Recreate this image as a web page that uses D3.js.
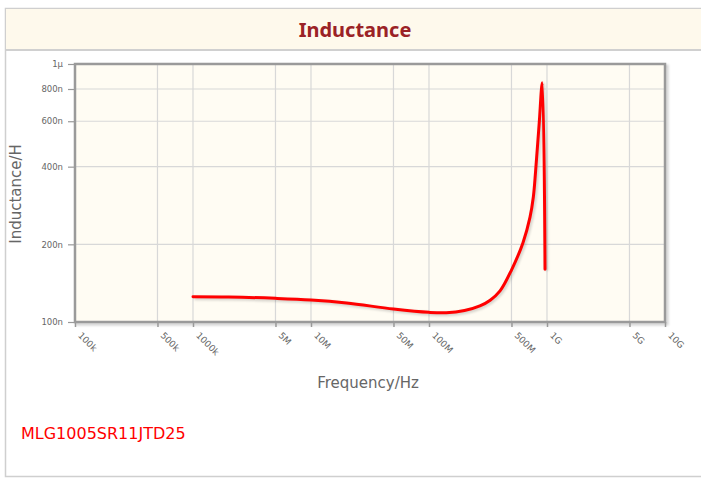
<!DOCTYPE html>
<html>
<head>
<meta charset="utf-8">
<script src="https://cdn.jsdelivr.net/npm/d3@7"></script>
<style>
  body { margin: 0; background: #fff; }
  svg { display: block; }
</style>
</head>
<body>
<div id="wrapper"></div>
<script>
// frequency (Hz) and inductance (H)
const freq = [1e6, 2e6, 5e6, 1e7, 2e7, 5e7, 1e8, 1.4e8, 2e8, 2.7e8, 3.3e8, 4e8, 5e8, 6.26e8, 7.18e8, 7.66e8, 8.01e8, 8.59e8, 9.12e8, 9.62e8];
const induct = [125.3e-9, 125e-9, 123.5e-9, 121.7e-9, 118.5e-9, 112.3e-9, 109e-9, 108.6e-9, 110.8e-9, 115.5e-9, 121.5e-9, 132e-9, 159e-9, 203e-9, 255e-9, 305e-9, 385e-9, 590e-9, 846e-9, 160e-9];

const xTicks = [1e5, 5e5, 1e6, 5e6, 1e7, 5e7, 1e8, 5e8, 1e9, 5e9, 1e10];
const xTickLabels = ["100k", "500k", "1000k", "5M", "10M", "50M", "100M", "500M", "1G", "5G", "10G"];
const yTicks = [1e-7, 2e-7, 4e-7, 6e-7, 8e-7, 1e-6];
const yTickLabels = ["100n", "200n", "400n", "600n", "800n", "1µ"];

const partName = "MLG1005SR11JTD25";

function buildPlot() {
    const dimension = {
        width: 701,
        height: 478,
        margin: { top: 64, left: 75, bottom: 156, right: 36 }
    };
    dimension.boundedWidth = dimension.width - dimension.margin.left - dimension.margin.right;
    dimension.boundedHeight = dimension.height - dimension.margin.top - dimension.margin.bottom;

    const svg = d3.select("#wrapper").append("svg")
        .attr("width", dimension.width)
        .attr("height", dimension.height);

    const defs = svg.append("defs");
    const f = defs.append("filter").attr("id", "shadow")
        .attr("x", "-5%").attr("y", "-5%").attr("width", "110%").attr("height", "110%");
    f.append("feGaussianBlur").attr("stdDeviation", 1.2);

    // outer panel
    svg.append("rect")
        .attr("x", 5.5).attr("y", 8.5)
        .attr("width", 700).attr("height", 468)
        .attr("fill", "#fff")
        .attr("stroke", "#cfcfcf")
        .attr("stroke-width", 1.5);

    // title bar
    svg.append("rect")
        .attr("x", 6).attr("y", 9)
        .attr("width", 700).attr("height", 41)
        .attr("fill", "#fef9ec");
    svg.append("line")
        .attr("x1", 6).attr("x2", 701)
        .attr("y1", 50).attr("y2", 50)
        .attr("stroke", "#d0d0d0")
        .attr("stroke-width", 2);
    svg.append("text")
        .attr("x", 355).attr("y", 37)
        .attr("text-anchor", "middle")
        .attr("font-family", "'Noto Sans', sans-serif")
        .attr("font-weight", "bold")
        .attr("font-size", 20)
        .attr("fill", "#9b2226")
        .text("Inductance");

    const xScaler = d3.scaleLog()
        .domain([1e5, 1e10])
        .range([0, dimension.boundedWidth]);
    const yScaler = d3.scaleLog()
        .domain([1e-7, 1e-6])
        .range([dimension.boundedHeight, 0]);

    const bounds = svg.append("g")
        .attr("transform", `translate(${dimension.margin.left}, ${dimension.margin.top})`);

    // frame shadow + background
    bounds.append("rect")
        .attr("x", 2).attr("y", 2)
        .attr("width", dimension.boundedWidth).attr("height", dimension.boundedHeight)
        .attr("fill", "none")
        .attr("stroke", "#000")
        .attr("stroke-opacity", 0.18)
        .attr("stroke-width", 3)
        .attr("filter", "url(#shadow)");
    bounds.append("rect")
        .attr("width", dimension.boundedWidth).attr("height", dimension.boundedHeight)
        .attr("fill", "#fffcf3");

    // grid
    bounds.append("g").selectAll("line")
        .data(xTicks.slice(1, -1))
        .join("line")
        .attr("x1", d => xScaler(d)).attr("x2", d => xScaler(d))
        .attr("y1", 0).attr("y2", dimension.boundedHeight)
        .attr("stroke", "#d8d8d8").attr("stroke-width", 1.2);
    bounds.append("g").selectAll("line")
        .data(yTicks.slice(1, -1))
        .join("line")
        .attr("x1", 0).attr("x2", dimension.boundedWidth)
        .attr("y1", d => yScaler(d)).attr("y2", d => yScaler(d))
        .attr("stroke", "#d8d8d8").attr("stroke-width", 1.2);

    // axes
    const xAxisGenerator = d3.axisBottom(xScaler)
        .tickValues(xTicks)
        .tickFormat((d, i) => xTickLabels[i])
        .tickSize(5)
        .tickSizeOuter(0);
    const xAxis = bounds.append("g")
        .attr("transform", `translate(0, ${dimension.boundedHeight})`)
        .call(xAxisGenerator);
    xAxis.select(".domain").remove();
    xAxis.selectAll(".tick line").attr("stroke", "#999").attr("stroke-width", 1.5);
    xAxis.selectAll(".tick text")
        .attr("fill", "#666")
        .attr("font-family", "'DejaVu Sans', sans-serif")
        .attr("font-size", 9)
        .attr("text-anchor", "start")
        .attr("dy", null)
        .attr("y", 0)
        .attr("transform", "translate(2, 14) rotate(45)");

    const yAxisGenerator = d3.axisLeft(yScaler)
        .tickValues(yTicks)
        .tickFormat((d, i) => yTickLabels[i])
        .tickSize(7)
        .tickSizeOuter(0);
    const yAxis = bounds.append("g").call(yAxisGenerator);
    yAxis.select(".domain").remove();
    yAxis.selectAll(".tick line").attr("stroke", "#999").attr("stroke-width", 1.2);
    yAxis.selectAll(".tick text")
        .attr("fill", "#666")
        .attr("font-family", "'DejaVu Sans', sans-serif")
        .attr("font-size", 8.5)
        .attr("x", -12);

    // frame
    bounds.append("rect")
        .attr("width", dimension.boundedWidth).attr("height", dimension.boundedHeight)
        .attr("fill", "none")
        .attr("stroke", "#9a9a9a")
        .attr("stroke-width", 2.5);

    // curve
    const pts = freq.map((d, i) => [d, induct[i]]);
    const lineGenerator = d3.line()
        .x(d => xScaler(d[0]))
        .y(d => yScaler(d[1]))
        .curve(d3.curveCatmullRom.alpha(0.5));

    bounds.append("path")
        .datum(pts)
        .attr("d", lineGenerator)
        .attr("fill", "none")
        .attr("stroke", "#000")
        .attr("stroke-opacity", 0.15)
        .attr("stroke-width", 4)
        .attr("transform", "translate(1.5, 1.5)")
        .attr("filter", "url(#shadow)");
    bounds.append("path")
        .datum(pts)
        .attr("d", lineGenerator)
        .attr("fill", "none")
        .attr("stroke", "#ff0000")
        .attr("stroke-width", 3)
        .attr("stroke-linejoin", "round")
        .attr("stroke-linecap", "round");

    // axis titles
    svg.append("text")
        .attr("x", 368).attr("y", 388)
        .attr("text-anchor", "middle")
        .attr("font-family", "'DejaVu Sans', sans-serif")
        .attr("font-size", 15)
        .attr("fill", "#666")
        .text("Frequency/Hz");
    svg.append("text")
        .attr("transform", "translate(21, 194) rotate(-90)")
        .attr("text-anchor", "middle")
        .attr("font-family", "'DejaVu Sans', sans-serif")
        .attr("font-size", 15)
        .attr("fill", "#666")
        .text("Inductance/H");

    // part number
    svg.append("text")
        .attr("x", 21).attr("y", 439)
        .attr("font-family", "'DejaVu Sans', sans-serif")
        .attr("font-size", 16)
        .attr("fill", "#ff0000")
        .text(partName);
}

buildPlot();
</script>
</body>
</html>
